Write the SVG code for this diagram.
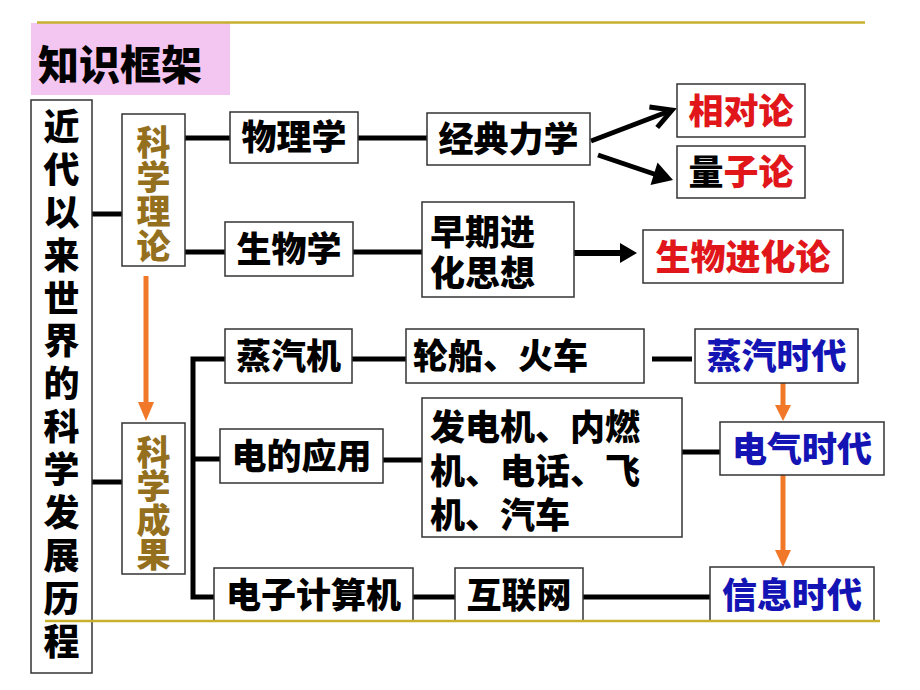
<svg xmlns="http://www.w3.org/2000/svg" width="920" height="690" viewBox="0 0 920 690">
<style>
.box{fill:#fff;stroke:#333;stroke-width:1.5}
.t{font-family:"Noto Sans CJK SC","Noto Sans",sans-serif;font-weight:900;font-size:35px;fill:#000}
.m{text-anchor:middle}
.red{fill:#E0161A}
.blue{fill:#1414B4}
.brown{fill:#94701E}
.conn{stroke:#000;stroke-width:5;fill:none}
.or{stroke:#F07828;stroke-width:5;fill:none}
.gold{stroke:#C6B02E;stroke-width:2.5}
</style>
<rect width="920" height="690" fill="#fff"/>
<g id="title">
<rect x="31" y="23" width="199" height="72" fill="#F3C6F1"/>
<text class="t" x="38" y="80" style="font-size:41px">知识框架</text>
</g>
<g id="connectors">
<line class="conn" x1="92" y1="214" x2="122" y2="214"/>
<line class="conn" x1="92" y1="482" x2="122" y2="482"/>
<line class="conn" x1="185" y1="138" x2="230" y2="138"/>
<line class="conn" x1="358" y1="138" x2="427" y2="138"/>
<line class="conn" x1="591" y1="141" x2="667" y2="112"/>
<polyline class="conn" points="649.4,106.9 672,110 657.2,127.5"/>
<line class="conn" x1="598" y1="155" x2="660" y2="176"/>
<polygon points="650.5,185 673,180 657.5,162.5" fill="#000"/>
<line class="conn" x1="185" y1="252" x2="225" y2="252"/>
<line class="conn" x1="353" y1="252" x2="422" y2="252"/>
<line class="conn" x1="574" y1="253" x2="622" y2="253" style="stroke-width:6"/>
<polygon points="620,243 637,253 620,263" fill="#000"/>
<polyline class="conn" points="225,359 193,359 193,597 214,597"/>
<line class="conn" x1="193" y1="459" x2="220" y2="459"/>
<line class="conn" x1="352" y1="359" x2="406" y2="359"/>
<line class="conn" x1="652" y1="359" x2="692" y2="359"/>
<line class="conn" x1="383" y1="460" x2="422" y2="460"/>
<line class="conn" x1="682" y1="452" x2="720" y2="452"/>
<line class="conn" x1="413" y1="597" x2="455" y2="597"/>
<line class="conn" x1="583" y1="597" x2="710" y2="597"/>
<line class="or" x1="146" y1="276" x2="146" y2="404"/>
<polygon points="138,402 154,402 146,421" fill="#F07828"/>
<line class="or" x1="783" y1="383" x2="783" y2="407"/>
<polygon points="775,405 791,405 783,421" fill="#F07828"/>
<line class="or" x1="783" y1="475" x2="783" y2="552"/>
<polygon points="775,550 791,550 783,567" fill="#F07828"/>
</g>
<g id="main">
<rect class="box" x="31" y="100" width="61" height="573"/>
<text class="t m" x="61.5" style="font-size:36px"><tspan x="61.5" y="140">近</tspan><tspan x="61.5" y="183">代</tspan><tspan x="61.5" y="226">以</tspan><tspan x="61.5" y="269">来</tspan><tspan x="61.5" y="312">世</tspan><tspan x="61.5" y="354">界</tspan><tspan x="61.5" y="397">的</tspan><tspan x="61.5" y="440">科</tspan><tspan x="61.5" y="483">学</tspan><tspan x="61.5" y="526">发</tspan><tspan x="61.5" y="569">展</tspan><tspan x="61.5" y="612">历</tspan><tspan x="61.5" y="655">程</tspan></text>
</g>
<g id="theory">
<rect class="box" x="122" y="114" width="63" height="152"/>
<text class="t m brown" style="font-size:34px"><tspan x="153.5" y="155">科</tspan><tspan x="153.5" y="190">学</tspan><tspan x="153.5" y="224">理</tspan><tspan x="153.5" y="259">论</tspan></text>
</g>
<g id="results">
<rect class="box" x="122" y="423" width="63" height="151"/>
<text class="t m brown" style="font-size:34px"><tspan x="153.5" y="465">科</tspan><tspan x="153.5" y="499">学</tspan><tspan x="153.5" y="533">成</tspan><tspan x="153.5" y="567">果</tspan></text>
</g>
<g id="physics">
<rect class="box" x="230" y="112" width="128" height="51"/>
<text class="t m" x="294" y="150">物理学</text>
</g>
<g id="mechanics">
<rect class="box" x="427" y="113" width="163" height="52"/>
<text class="t m" x="508.5" y="152">经典力学</text>
</g>
<g id="relativity">
<rect class="box" x="677" y="84" width="128" height="53"/>
<text class="t m red" x="741" y="124">相对论</text>
</g>
<g id="quantum">
<rect class="box" x="677" y="146" width="128" height="52"/>
<text class="t m" x="741" y="185">量<tspan class="red">子论</tspan></text>
</g>
<g id="biology">
<rect class="box" x="225" y="222" width="128" height="54"/>
<text class="t m" x="289" y="262">生物学</text>
</g>
<g id="early">
<rect class="box" x="422" y="202" width="152" height="95"/>
<text class="t"><tspan x="430" y="245">早期进</tspan><tspan x="430" y="286">化思想</tspan></text>
</g>
<g id="evolution">
<rect class="box" x="643" y="230" width="200" height="53"/>
<text class="t m red" x="743" y="270">生物进化论</text>
</g>
<g id="steam">
<rect class="box" x="225" y="329" width="127" height="54"/>
<text class="t m" x="288.5" y="369">蒸汽机</text>
</g>
<g id="ships">
<rect class="box" x="406" y="329" width="238" height="54"/>
<text class="t" x="413" y="369">轮船、火车</text>
</g>
<g id="steamage">
<rect class="box" x="695" y="329" width="163" height="54"/>
<text class="t m blue" x="776.5" y="369">蒸汽时代</text>
</g>
<g id="electric">
<rect class="box" x="220" y="429" width="163" height="54"/>
<text class="t m" x="301.5" y="469">电的应用</text>
</g>
<g id="inventions">
<rect class="box" x="422" y="398" width="260" height="139"/>
<text class="t"><tspan x="430" y="440">发电机、内燃</tspan><tspan x="430" y="484">机、电话、飞</tspan><tspan x="430" y="528">机、汽车</tspan></text>
</g>
<g id="electricage">
<rect class="box" x="720" y="422" width="164" height="53"/>
<text class="t m blue" x="802" y="462">电气时代</text>
</g>
<g id="computer">
<rect class="box" x="214" y="568" width="199" height="53"/>
<text class="t m" x="313.5" y="608">电子计算机</text>
</g>
<g id="internet">
<rect class="box" x="455" y="568" width="128" height="53"/>
<text class="t m" x="519" y="608">互联网</text>
</g>
<g id="infoage">
<rect class="box" x="710" y="567" width="164" height="54"/>
<text class="t m blue" x="792" y="608">信息时代</text>
</g>
<line class="gold" x1="37" y1="22.5" x2="865" y2="22.5"/>
<line class="gold" x1="45" y1="621" x2="880" y2="621"/>
</svg>
